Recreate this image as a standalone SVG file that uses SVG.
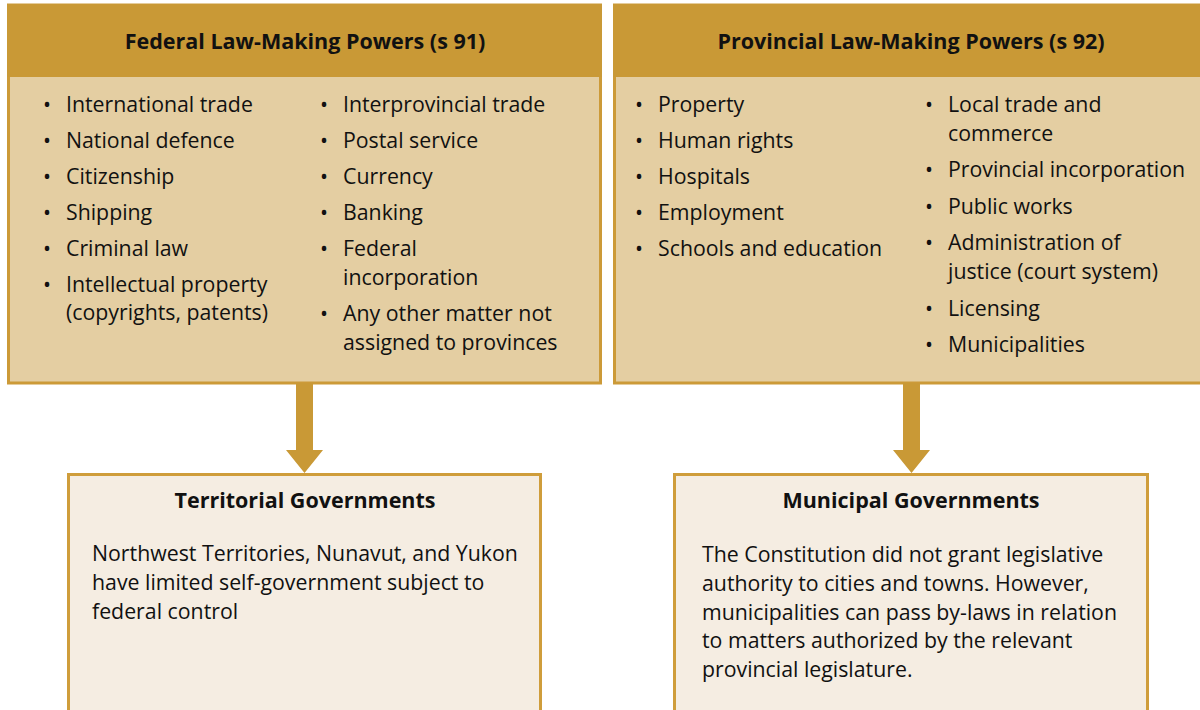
<svg xmlns="http://www.w3.org/2000/svg" width="1200" height="710" viewBox="0 0 1200 710">
<style>
.top{fill:#E4CEA2;stroke:#CC9A38;stroke-width:3}
.hdr{fill:#C99936}
.bot{fill:#F5EDE2;stroke:#CF9D3B;stroke-width:3}
.arrow{fill:#C99936}
text{font-family:"Open Sans","Noto Sans","Liberation Sans",sans-serif;fill:#111;font-size:21.3px}
.h{font-weight:bold;text-anchor:middle;font-size:21.5px}
.b{font-size:21.3px}
</style>
<rect width="1200" height="710" fill="#fff"/>
<g id="federal">
<rect class="top" x="8.5" y="5" width="592" height="378"/>
<rect class="hdr" x="7" y="4" width="595" height="73"/>
<text class="h" x="305" y="49">Federal Law-Making Powers (s 91)</text>
<g class="b">
<text x="43" y="112">•</text><text x="66" y="112">International trade</text>
<text x="43" y="148">•</text><text x="66" y="148">National defence</text>
<text x="43" y="184">•</text><text x="66" y="184">Citizenship</text>
<text x="43" y="220">•</text><text x="66" y="220">Shipping</text>
<text x="43" y="256">•</text><text x="66" y="256">Criminal law</text>
<text x="43" y="292">•</text><text x="66" y="292">Intellectual property</text>
<text x="66" y="320">(copyrights, patents)</text>
<text x="320" y="112">•</text><text x="343" y="112">Interprovincial trade</text>
<text x="320" y="148">•</text><text x="343" y="148">Postal service</text>
<text x="320" y="184">•</text><text x="343" y="184">Currency</text>
<text x="320" y="220">•</text><text x="343" y="220">Banking</text>
<text x="320" y="256">•</text><text x="343" y="256">Federal</text>
<text x="343" y="285">incorporation</text>
<text x="320" y="321">•</text><text x="343" y="321">Any other matter not</text>
<text x="343" y="350">assigned to provinces</text>
</g>
</g>
<g id="provincial">
<rect class="top" x="614.5" y="5" width="600" height="378"/>
<rect class="hdr" x="613" y="4" width="600" height="73"/>
<text class="h" x="911" y="49">Provincial Law-Making Powers (s 92)</text>
<g class="b">
<text x="635" y="112">•</text><text x="658" y="112">Property</text>
<text x="635" y="148">•</text><text x="658" y="148">Human rights</text>
<text x="635" y="184">•</text><text x="658" y="184">Hospitals</text>
<text x="635" y="220">•</text><text x="658" y="220">Employment</text>
<text x="635" y="256">•</text><text x="658" y="256">Schools and education</text>
<text x="925" y="112">•</text><text x="948" y="112">Local trade and</text>
<text x="948" y="141">commerce</text>
<text x="925" y="177">•</text><text x="948" y="177">Provincial incorporation</text>
<text x="925" y="214">•</text><text x="948" y="214">Public works</text>
<text x="925" y="250">•</text><text x="948" y="250">Administration of</text>
<text x="948" y="279">justice (court system)</text>
<text x="925" y="316">•</text><text x="948" y="316">Licensing</text>
<text x="925" y="352">•</text><text x="948" y="352">Municipalities</text>
</g>
</g>
<g id="territorial">
<rect class="bot" x="68.5" y="474.5" width="472" height="250"/>
<text class="h" x="305" y="508">Territorial Governments</text>
<text class="b" x="92" y="561">Northwest Territories, Nunavut, and Yukon</text>
<text class="b" x="92" y="590">have limited self-government subject to</text>
<text class="b" x="92" y="619">federal control</text>
</g>
<g id="municipal">
<rect class="bot" x="674.5" y="474.5" width="473" height="250"/>
<text class="h" x="911" y="508">Municipal Governments</text>
<text class="b" x="702" y="562">The Constitution did not grant legislative</text>
<text class="b" x="702" y="591">authority to cities and towns. However,</text>
<text class="b" x="702" y="620">municipalities can pass by-laws in relation</text>
<text class="b" x="702" y="648">to matters authorized by the relevant</text>
<text class="b" x="702" y="677">provincial legislature.</text>
</g>
<g id="connectors">
<polygon class="arrow" points="296,383 313,383 313,450 323,450 304.5,473 286,450 296,450"/>
<polygon class="arrow" points="903,383 920,383 920,450 930,450 911.5,473 893,450 903,450"/>
</g>
</svg>
